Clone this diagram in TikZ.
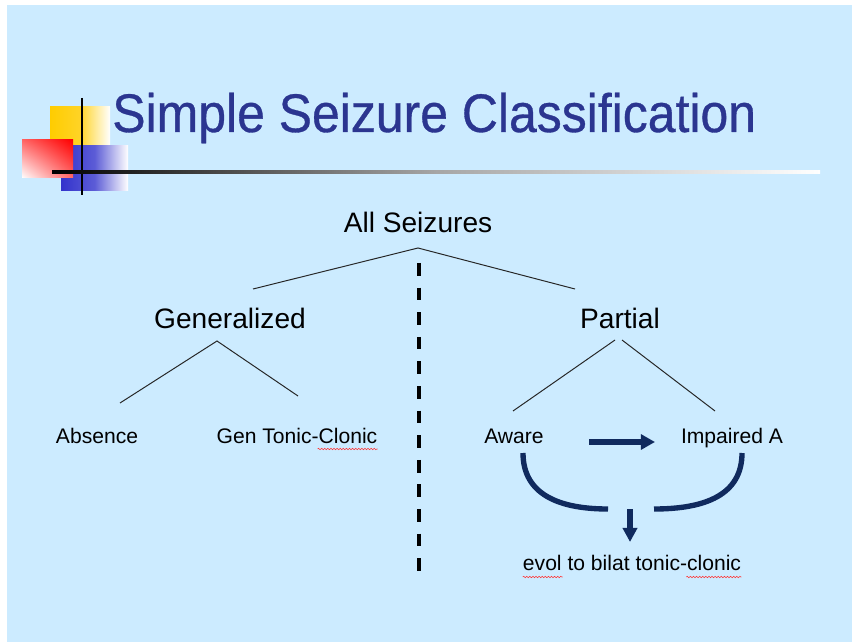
\documentclass[tikz,border=0pt]{standalone}
\usepackage{xcolor}
\usepackage{fontspec}
\setmainfont{Liberation Sans}
\newfontfamily\titlefont{Liberation Sans}[FakeStretch=0.92,FakeBold=0.6]
\usepackage{tikz}
\usetikzlibrary{arrows.meta,positioning,calc,shadings,decorations.pathmorphing}

\definecolor{slidebg}{HTML}{CCEBFF}
\definecolor{titleblue}{HTML}{2B3590}
\definecolor{navy}{HTML}{102A5E}
\definecolor{sqyellow}{HTML}{FFCC00}
\definecolor{sqblue}{HTML}{3333CC}

\tikzset{
  big/.style={font=\fontsize{20}{24}\selectfont, anchor=base, inner sep=0pt},
  small/.style={font=\fontsize{15}{18}\selectfont, anchor=base, inner sep=0pt},
  branch/.style={draw=black!85, line width=0.7pt},
  flow/.style={draw=navy, line width=3.8pt},
  spellmark/.style={draw=red!80, line width=0.4pt, decorate,
    decoration={snake, amplitude=0.5pt, segment length=2.2pt}},
}

\begin{document}
\begin{tikzpicture}[x=0.025cm,y=-0.025cm]
\useasboundingbox (0,0) rectangle (852,642);
\fill[white] (0,0) rectangle (852,642);
\fill[slidebg] (7,5) rectangle (852,642);
% title logo
\shade[left color=sqyellow, right color=white, middle color=sqyellow!85!white] (50,107) rectangle (110,147);
\shade[left color=sqblue, right color=white, middle color=sqblue!80!white] (61,146) rectangle (128,191);
\shade[upper right=red, lower left=white, upper left=red!60!white, lower right=red!60!white] (22,140) rectangle (73,178);
\draw[black, line width=1.4pt] (82,98) -- (82,195);
\shade[left color=black, right color=white, middle color=gray!70] (52,170.8) rectangle (820,173.4);
\node[font=\titlefont\fontsize{38.6}{44}\selectfont, text=titleblue, anchor=base west, inner sep=0pt]
  (title) at (112,132) {Simple Seizure Classification};
% tree
\node[big] (all) at (418,233) {All Seizures};
\node[big] (gen) at (230,328) {Generalized};
\node[big] (par) at (620,328) {Partial};
\foreach \nm/\x/\txt in {
    abs/97/Absence,
    gtc/297/Gen Tonic-Clonic,
    awa/514/Aware,
    imp/732/Impaired A} {
  \node[small] (\nm) at (\x,443) {\txt};
}
\node[small] (evol) at (632,570) {evol to bilat tonic-clonic};
% spelling marks
\draw[spellmark] ($(gtc.base east)+(-60,6)$) -- ($(gtc.base east)+(0,6)$);
\draw[spellmark] ($(evol.base west)+(0,7)$) -- ($(evol.base west)+(40,7)$);
\draw[spellmark] ($(evol.base east)+(-55,7)$) -- ($(evol.base east)+(0,7)$);
% connectors
\coordinate (all-b) at (418,248);
\coordinate (gen-t) at (253,289);
\coordinate (par-t) at (575,289);
\coordinate (gen-b) at (217,341);
\coordinate (abs-t) at (120,403);
\coordinate (gtc-t) at (298,396);
\coordinate (par-bl) at (615,340);
\coordinate (par-br) at (622,340);
\coordinate (awa-t) at (513,411);
\coordinate (imp-t) at (715,411);
\draw[branch] (gen-t) -- (all-b) -- (par-t);
\draw[branch] (abs-t) -- (gen-b) -- (gtc-t);
\draw[branch] (awa-t) -- (par-bl);
\draw[branch] (par-br) -- (imp-t);
\coordinate (split-t) at (419,263);
\coordinate (split-b) at (419,578);
\draw[black, line width=2.5pt, dash pattern=on 9 off 8.5] (split-t) -- (split-b);
% evolution arrows
\coordinate (awa-r) at (589,442);
\coordinate (imp-l) at (655,442);
\draw[flow, -{Triangle[length=10pt,width=10.5pt]}] (awa-r) -- (imp-l);
\coordinate (awa-b) at (523,453);
\coordinate (imp-b) at (742,453);
\coordinate (mid-l) at (608,509);
\coordinate (mid-r) at (654,509);
\draw[flow] (awa-b) .. controls (523,495) and (560,509) .. (mid-l);
\draw[flow] (imp-b) .. controls (742,495) and (705,509) .. (mid-r);
\coordinate (down-t) at (630,509);
\coordinate (down-b) at (630,542);
\draw[flow, -{Triangle[length=10pt,width=10pt]}] (down-t) -- (down-b);
\end{tikzpicture}
\end{document}
